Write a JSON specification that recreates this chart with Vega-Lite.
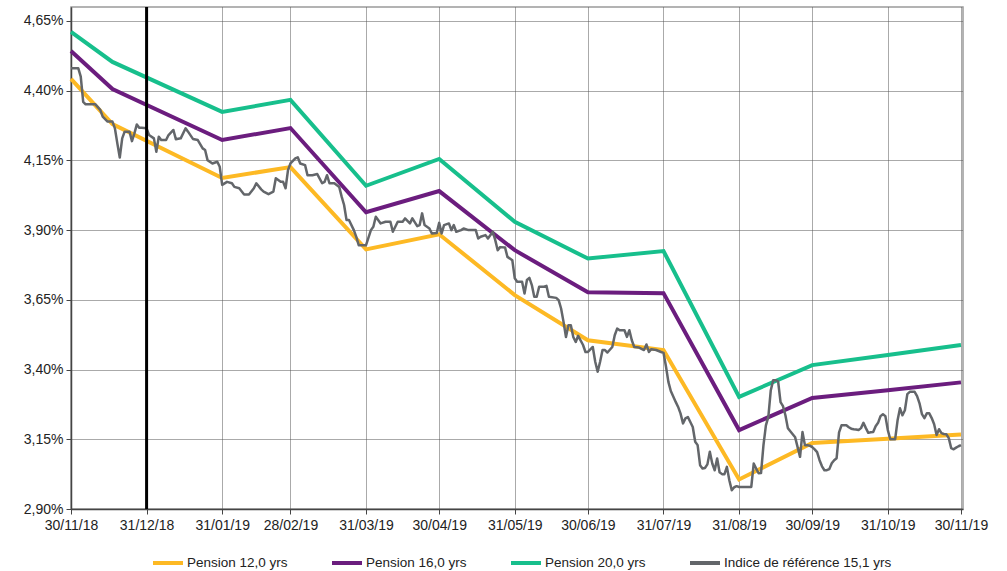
{
  "$schema": "https://vega.github.io/schema/vega-lite/v6.json",
  "width": 892,
  "height": 502,
  "autosize": {"type": "none"},
  "padding": {"left": 71, "top": 7, "right": 44, "bottom": 62},
  "background": "white",
  "config": {
    "view": {"stroke": "#9a9a9a", "strokeWidth": 1.5},
    "font": "Liberation Sans",
    "axis": {
      "labelFont": "Liberation Sans",
      "labelFontSize": 14,
      "labelColor": "#222222",
      "gridColor": "#555555",
      "gridDash": [1, 1],
      "gridWidth": 1,
      "gridOpacity": 1,
      "domainColor": "#444444",
      "domainWidth": 1.5,
      "tickColor": "#444444",
      "tickSize": 5,
      "title": null
    },
    "legend": {
      "labelFont": "Liberation Sans",
      "labelFontSize": 13.5,
      "labelColor": "#222222",
      "labelLimit": 400,
      "symbolType": "stroke",
      "symbolStrokeWidth": 4,
      "symbolSize": 900,
      "columnPadding": 36,
      "gridAlign": "none",
      "labelOffset": 2
    }
  },
  "datasets": {
    "pension": [
      {"date": "2018-11-30", "taux": 4.442, "serie": "Pension 12,0 yrs"},
      {"date": "2018-12-17", "taux": 4.280, "serie": "Pension 12,0 yrs"},
      {"date": "2019-01-31", "taux": 4.087, "serie": "Pension 12,0 yrs"},
      {"date": "2019-02-28", "taux": 4.126, "serie": "Pension 12,0 yrs"},
      {"date": "2019-03-31", "taux": 3.831, "serie": "Pension 12,0 yrs"},
      {"date": "2019-04-30", "taux": 3.885, "serie": "Pension 12,0 yrs"},
      {"date": "2019-05-31", "taux": 3.667, "serie": "Pension 12,0 yrs"},
      {"date": "2019-06-30", "taux": 3.505, "serie": "Pension 12,0 yrs"},
      {"date": "2019-07-31", "taux": 3.470, "serie": "Pension 12,0 yrs"},
      {"date": "2019-08-31", "taux": 3.006, "serie": "Pension 12,0 yrs"},
      {"date": "2019-09-30", "taux": 3.137, "serie": "Pension 12,0 yrs"},
      {"date": "2019-10-31", "taux": 3.152, "serie": "Pension 12,0 yrs"},
      {"date": "2019-11-30", "taux": 3.167, "serie": "Pension 12,0 yrs"},
      {"date": "2018-11-30", "taux": 4.542, "serie": "Pension 16,0 yrs"},
      {"date": "2018-12-17", "taux": 4.406, "serie": "Pension 16,0 yrs"},
      {"date": "2019-01-31", "taux": 4.223, "serie": "Pension 16,0 yrs"},
      {"date": "2019-02-28", "taux": 4.266, "serie": "Pension 16,0 yrs"},
      {"date": "2019-03-31", "taux": 3.964, "serie": "Pension 16,0 yrs"},
      {"date": "2019-04-30", "taux": 4.040, "serie": "Pension 16,0 yrs"},
      {"date": "2019-05-31", "taux": 3.828, "serie": "Pension 16,0 yrs"},
      {"date": "2019-06-30", "taux": 3.677, "serie": "Pension 16,0 yrs"},
      {"date": "2019-07-31", "taux": 3.674, "serie": "Pension 16,0 yrs"},
      {"date": "2019-08-31", "taux": 3.183, "serie": "Pension 16,0 yrs"},
      {"date": "2019-09-30", "taux": 3.298, "serie": "Pension 16,0 yrs"},
      {"date": "2019-10-31", "taux": 3.326, "serie": "Pension 16,0 yrs"},
      {"date": "2019-11-30", "taux": 3.354, "serie": "Pension 16,0 yrs"},
      {"date": "2018-11-30", "taux": 4.611, "serie": "Pension 20,0 yrs"},
      {"date": "2018-12-17", "taux": 4.503, "serie": "Pension 20,0 yrs"},
      {"date": "2019-01-31", "taux": 4.324, "serie": "Pension 20,0 yrs"},
      {"date": "2019-02-28", "taux": 4.367, "serie": "Pension 20,0 yrs"},
      {"date": "2019-03-31", "taux": 4.059, "serie": "Pension 20,0 yrs"},
      {"date": "2019-04-30", "taux": 4.155, "serie": "Pension 20,0 yrs"},
      {"date": "2019-05-31", "taux": 3.930, "serie": "Pension 20,0 yrs"},
      {"date": "2019-06-30", "taux": 3.798, "serie": "Pension 20,0 yrs"},
      {"date": "2019-07-31", "taux": 3.825, "serie": "Pension 20,0 yrs"},
      {"date": "2019-08-31", "taux": 3.302, "serie": "Pension 20,0 yrs"},
      {"date": "2019-09-30", "taux": 3.416, "serie": "Pension 20,0 yrs"},
      {"date": "2019-10-31", "taux": 3.452, "serie": "Pension 20,0 yrs"},
      {"date": "2019-11-30", "taux": 3.488, "serie": "Pension 20,0 yrs"}
    ],
    "indice": [
      {"date": "2018-11-30", "taux": 4.480, "serie": "Indice de référence 15,1 yrs"},
      {"date": "2018-12-03", "taux": 4.480, "serie": "Indice de référence 15,1 yrs"},
      {"date": "2018-12-04", "taux": 4.450, "serie": "Indice de référence 15,1 yrs"},
      {"date": "2018-12-05", "taux": 4.360, "serie": "Indice de référence 15,1 yrs"},
      {"date": "2018-12-06", "taux": 4.351, "serie": "Indice de référence 15,1 yrs"},
      {"date": "2018-12-10", "taux": 4.351, "serie": "Indice de référence 15,1 yrs"},
      {"date": "2018-12-12", "taux": 4.331, "serie": "Indice de référence 15,1 yrs"},
      {"date": "2018-12-13", "taux": 4.307, "serie": "Indice de référence 15,1 yrs"},
      {"date": "2018-12-15", "taux": 4.289, "serie": "Indice de référence 15,1 yrs"},
      {"date": "2018-12-17", "taux": 4.289, "serie": "Indice de référence 15,1 yrs"},
      {"date": "2018-12-18", "taux": 4.265, "serie": "Indice de référence 15,1 yrs"},
      {"date": "2018-12-19", "taux": 4.211, "serie": "Indice de référence 15,1 yrs"},
      {"date": "2018-12-20", "taux": 4.160, "serie": "Indice de référence 15,1 yrs"},
      {"date": "2018-12-21", "taux": 4.229, "serie": "Indice de référence 15,1 yrs"},
      {"date": "2018-12-22", "taux": 4.253, "serie": "Indice de référence 15,1 yrs"},
      {"date": "2018-12-24", "taux": 4.253, "serie": "Indice de référence 15,1 yrs"},
      {"date": "2018-12-25", "taux": 4.219, "serie": "Indice de référence 15,1 yrs"},
      {"date": "2018-12-26", "taux": 4.247, "serie": "Indice de référence 15,1 yrs"},
      {"date": "2018-12-27", "taux": 4.279, "serie": "Indice de référence 15,1 yrs"},
      {"date": "2018-12-28", "taux": 4.267, "serie": "Indice de référence 15,1 yrs"},
      {"date": "2018-12-29", "taux": 4.267, "serie": "Indice de référence 15,1 yrs"},
      {"date": "2018-12-31", "taux": 4.265, "serie": "Indice de référence 15,1 yrs"},
      {"date": "2019-01-01", "taux": 4.241, "serie": "Indice de référence 15,1 yrs"},
      {"date": "2019-01-03", "taux": 4.229, "serie": "Indice de référence 15,1 yrs"},
      {"date": "2019-01-04", "taux": 4.181, "serie": "Indice de référence 15,1 yrs"},
      {"date": "2019-01-05", "taux": 4.235, "serie": "Indice de référence 15,1 yrs"},
      {"date": "2019-01-06", "taux": 4.223, "serie": "Indice de référence 15,1 yrs"},
      {"date": "2019-01-08", "taux": 4.223, "serie": "Indice de référence 15,1 yrs"},
      {"date": "2019-01-09", "taux": 4.241, "serie": "Indice de référence 15,1 yrs"},
      {"date": "2019-01-11", "taux": 4.259, "serie": "Indice de référence 15,1 yrs"},
      {"date": "2019-01-12", "taux": 4.226, "serie": "Indice de référence 15,1 yrs"},
      {"date": "2019-01-14", "taux": 4.229, "serie": "Indice de référence 15,1 yrs"},
      {"date": "2019-01-16", "taux": 4.265, "serie": "Indice de référence 15,1 yrs"},
      {"date": "2019-01-17", "taux": 4.253, "serie": "Indice de référence 15,1 yrs"},
      {"date": "2019-01-19", "taux": 4.227, "serie": "Indice de référence 15,1 yrs"},
      {"date": "2019-01-21", "taux": 4.223, "serie": "Indice de référence 15,1 yrs"},
      {"date": "2019-01-23", "taux": 4.193, "serie": "Indice de référence 15,1 yrs"},
      {"date": "2019-01-24", "taux": 4.187, "serie": "Indice de référence 15,1 yrs"},
      {"date": "2019-01-25", "taux": 4.151, "serie": "Indice de référence 15,1 yrs"},
      {"date": "2019-01-27", "taux": 4.139, "serie": "Indice de référence 15,1 yrs"},
      {"date": "2019-01-29", "taux": 4.145, "serie": "Indice de référence 15,1 yrs"},
      {"date": "2019-01-30", "taux": 4.127, "serie": "Indice de référence 15,1 yrs"},
      {"date": "2019-01-31", "taux": 4.062, "serie": "Indice de référence 15,1 yrs"},
      {"date": "2019-02-02", "taux": 4.073, "serie": "Indice de référence 15,1 yrs"},
      {"date": "2019-02-04", "taux": 4.068, "serie": "Indice de référence 15,1 yrs"},
      {"date": "2019-02-05", "taux": 4.055, "serie": "Indice de référence 15,1 yrs"},
      {"date": "2019-02-07", "taux": 4.050, "serie": "Indice de référence 15,1 yrs"},
      {"date": "2019-02-09", "taux": 4.028, "serie": "Indice de référence 15,1 yrs"},
      {"date": "2019-02-11", "taux": 4.028, "serie": "Indice de référence 15,1 yrs"},
      {"date": "2019-02-13", "taux": 4.050, "serie": "Indice de référence 15,1 yrs"},
      {"date": "2019-02-14", "taux": 4.068, "serie": "Indice de référence 15,1 yrs"},
      {"date": "2019-02-16", "taux": 4.046, "serie": "Indice de référence 15,1 yrs"},
      {"date": "2019-02-17", "taux": 4.038, "serie": "Indice de référence 15,1 yrs"},
      {"date": "2019-02-19", "taux": 4.029, "serie": "Indice de référence 15,1 yrs"},
      {"date": "2019-02-21", "taux": 4.038, "serie": "Indice de référence 15,1 yrs"},
      {"date": "2019-02-22", "taux": 4.086, "serie": "Indice de référence 15,1 yrs"},
      {"date": "2019-02-24", "taux": 4.073, "serie": "Indice de référence 15,1 yrs"},
      {"date": "2019-02-25", "taux": 4.073, "serie": "Indice de référence 15,1 yrs"},
      {"date": "2019-02-26", "taux": 4.050, "serie": "Indice de référence 15,1 yrs"},
      {"date": "2019-02-27", "taux": 4.115, "serie": "Indice de référence 15,1 yrs"},
      {"date": "2019-02-28", "taux": 4.139, "serie": "Indice de référence 15,1 yrs"},
      {"date": "2019-03-02", "taux": 4.157, "serie": "Indice de référence 15,1 yrs"},
      {"date": "2019-03-03", "taux": 4.161, "serie": "Indice de référence 15,1 yrs"},
      {"date": "2019-03-04", "taux": 4.139, "serie": "Indice de référence 15,1 yrs"},
      {"date": "2019-03-06", "taux": 4.133, "serie": "Indice de référence 15,1 yrs"},
      {"date": "2019-03-07", "taux": 4.097, "serie": "Indice de référence 15,1 yrs"},
      {"date": "2019-03-09", "taux": 4.097, "serie": "Indice de référence 15,1 yrs"},
      {"date": "2019-03-11", "taux": 4.101, "serie": "Indice de référence 15,1 yrs"},
      {"date": "2019-03-13", "taux": 4.068, "serie": "Indice de référence 15,1 yrs"},
      {"date": "2019-03-14", "taux": 4.073, "serie": "Indice de référence 15,1 yrs"},
      {"date": "2019-03-15", "taux": 4.097, "serie": "Indice de référence 15,1 yrs"},
      {"date": "2019-03-16", "taux": 4.068, "serie": "Indice de référence 15,1 yrs"},
      {"date": "2019-03-18", "taux": 4.068, "serie": "Indice de référence 15,1 yrs"},
      {"date": "2019-03-20", "taux": 4.055, "serie": "Indice de référence 15,1 yrs"},
      {"date": "2019-03-21", "taux": 4.020, "serie": "Indice de référence 15,1 yrs"},
      {"date": "2019-03-22", "taux": 3.990, "serie": "Indice de référence 15,1 yrs"},
      {"date": "2019-03-23", "taux": 3.936, "serie": "Indice de référence 15,1 yrs"},
      {"date": "2019-03-24", "taux": 3.936, "serie": "Indice de référence 15,1 yrs"},
      {"date": "2019-03-26", "taux": 3.900, "serie": "Indice de référence 15,1 yrs"},
      {"date": "2019-03-27", "taux": 3.876, "serie": "Indice de référence 15,1 yrs"},
      {"date": "2019-03-28", "taux": 3.846, "serie": "Indice de référence 15,1 yrs"},
      {"date": "2019-03-30", "taux": 3.846, "serie": "Indice de référence 15,1 yrs"},
      {"date": "2019-03-31", "taux": 3.846, "serie": "Indice de référence 15,1 yrs"},
      {"date": "2019-04-02", "taux": 3.900, "serie": "Indice de référence 15,1 yrs"},
      {"date": "2019-04-03", "taux": 3.912, "serie": "Indice de référence 15,1 yrs"},
      {"date": "2019-04-04", "taux": 3.948, "serie": "Indice de référence 15,1 yrs"},
      {"date": "2019-04-06", "taux": 3.924, "serie": "Indice de référence 15,1 yrs"},
      {"date": "2019-04-08", "taux": 3.930, "serie": "Indice de référence 15,1 yrs"},
      {"date": "2019-04-10", "taux": 3.930, "serie": "Indice de référence 15,1 yrs"},
      {"date": "2019-04-11", "taux": 3.894, "serie": "Indice de référence 15,1 yrs"},
      {"date": "2019-04-13", "taux": 3.930, "serie": "Indice de référence 15,1 yrs"},
      {"date": "2019-04-15", "taux": 3.930, "serie": "Indice de référence 15,1 yrs"},
      {"date": "2019-04-16", "taux": 3.942, "serie": "Indice de référence 15,1 yrs"},
      {"date": "2019-04-18", "taux": 3.924, "serie": "Indice de référence 15,1 yrs"},
      {"date": "2019-04-19", "taux": 3.942, "serie": "Indice de référence 15,1 yrs"},
      {"date": "2019-04-21", "taux": 3.914, "serie": "Indice de référence 15,1 yrs"},
      {"date": "2019-04-22", "taux": 3.918, "serie": "Indice de référence 15,1 yrs"},
      {"date": "2019-04-23", "taux": 3.960, "serie": "Indice de référence 15,1 yrs"},
      {"date": "2019-04-24", "taux": 3.918, "serie": "Indice de référence 15,1 yrs"},
      {"date": "2019-04-26", "taux": 3.906, "serie": "Indice de référence 15,1 yrs"},
      {"date": "2019-04-27", "taux": 3.888, "serie": "Indice de référence 15,1 yrs"},
      {"date": "2019-04-29", "taux": 3.890, "serie": "Indice de référence 15,1 yrs"},
      {"date": "2019-04-30", "taux": 3.926, "serie": "Indice de référence 15,1 yrs"},
      {"date": "2019-05-01", "taux": 3.888, "serie": "Indice de référence 15,1 yrs"},
      {"date": "2019-05-02", "taux": 3.918, "serie": "Indice de référence 15,1 yrs"},
      {"date": "2019-05-04", "taux": 3.924, "serie": "Indice de référence 15,1 yrs"},
      {"date": "2019-05-05", "taux": 3.900, "serie": "Indice de référence 15,1 yrs"},
      {"date": "2019-05-06", "taux": 3.918, "serie": "Indice de référence 15,1 yrs"},
      {"date": "2019-05-07", "taux": 3.894, "serie": "Indice de référence 15,1 yrs"},
      {"date": "2019-05-09", "taux": 3.900, "serie": "Indice de référence 15,1 yrs"},
      {"date": "2019-05-10", "taux": 3.906, "serie": "Indice de référence 15,1 yrs"},
      {"date": "2019-05-12", "taux": 3.900, "serie": "Indice de référence 15,1 yrs"},
      {"date": "2019-05-15", "taux": 3.900, "serie": "Indice de référence 15,1 yrs"},
      {"date": "2019-05-16", "taux": 3.870, "serie": "Indice de référence 15,1 yrs"},
      {"date": "2019-05-17", "taux": 3.876, "serie": "Indice de référence 15,1 yrs"},
      {"date": "2019-05-19", "taux": 3.882, "serie": "Indice de référence 15,1 yrs"},
      {"date": "2019-05-20", "taux": 3.870, "serie": "Indice de référence 15,1 yrs"},
      {"date": "2019-05-22", "taux": 3.894, "serie": "Indice de référence 15,1 yrs"},
      {"date": "2019-05-23", "taux": 3.864, "serie": "Indice de référence 15,1 yrs"},
      {"date": "2019-05-24", "taux": 3.828, "serie": "Indice de référence 15,1 yrs"},
      {"date": "2019-05-25", "taux": 3.839, "serie": "Indice de référence 15,1 yrs"},
      {"date": "2019-05-27", "taux": 3.838, "serie": "Indice de référence 15,1 yrs"},
      {"date": "2019-05-28", "taux": 3.804, "serie": "Indice de référence 15,1 yrs"},
      {"date": "2019-05-30", "taux": 3.792, "serie": "Indice de référence 15,1 yrs"},
      {"date": "2019-05-31", "taux": 3.727, "serie": "Indice de référence 15,1 yrs"},
      {"date": "2019-06-01", "taux": 3.715, "serie": "Indice de référence 15,1 yrs"},
      {"date": "2019-06-03", "taux": 3.715, "serie": "Indice de référence 15,1 yrs"},
      {"date": "2019-06-04", "taux": 3.673, "serie": "Indice de référence 15,1 yrs"},
      {"date": "2019-06-05", "taux": 3.721, "serie": "Indice de référence 15,1 yrs"},
      {"date": "2019-06-06", "taux": 3.729, "serie": "Indice de référence 15,1 yrs"},
      {"date": "2019-06-07", "taux": 3.703, "serie": "Indice de référence 15,1 yrs"},
      {"date": "2019-06-08", "taux": 3.661, "serie": "Indice de référence 15,1 yrs"},
      {"date": "2019-06-09", "taux": 3.661, "serie": "Indice de référence 15,1 yrs"},
      {"date": "2019-06-10", "taux": 3.697, "serie": "Indice de référence 15,1 yrs"},
      {"date": "2019-06-12", "taux": 3.697, "serie": "Indice de référence 15,1 yrs"},
      {"date": "2019-06-13", "taux": 3.700, "serie": "Indice de référence 15,1 yrs"},
      {"date": "2019-06-14", "taux": 3.661, "serie": "Indice de référence 15,1 yrs"},
      {"date": "2019-06-17", "taux": 3.657, "serie": "Indice de référence 15,1 yrs"},
      {"date": "2019-06-18", "taux": 3.649, "serie": "Indice de référence 15,1 yrs"},
      {"date": "2019-06-19", "taux": 3.619, "serie": "Indice de référence 15,1 yrs"},
      {"date": "2019-06-20", "taux": 3.571, "serie": "Indice de référence 15,1 yrs"},
      {"date": "2019-06-21", "taux": 3.517, "serie": "Indice de référence 15,1 yrs"},
      {"date": "2019-06-22", "taux": 3.559, "serie": "Indice de référence 15,1 yrs"},
      {"date": "2019-06-23", "taux": 3.559, "serie": "Indice de référence 15,1 yrs"},
      {"date": "2019-06-24", "taux": 3.517, "serie": "Indice de référence 15,1 yrs"},
      {"date": "2019-06-25", "taux": 3.499, "serie": "Indice de référence 15,1 yrs"},
      {"date": "2019-06-26", "taux": 3.521, "serie": "Indice de référence 15,1 yrs"},
      {"date": "2019-06-28", "taux": 3.488, "serie": "Indice de référence 15,1 yrs"},
      {"date": "2019-06-29", "taux": 3.463, "serie": "Indice de référence 15,1 yrs"},
      {"date": "2019-06-30", "taux": 3.463, "serie": "Indice de référence 15,1 yrs"},
      {"date": "2019-07-02", "taux": 3.481, "serie": "Indice de référence 15,1 yrs"},
      {"date": "2019-07-03", "taux": 3.428, "serie": "Indice de référence 15,1 yrs"},
      {"date": "2019-07-04", "taux": 3.392, "serie": "Indice de référence 15,1 yrs"},
      {"date": "2019-07-05", "taux": 3.428, "serie": "Indice de référence 15,1 yrs"},
      {"date": "2019-07-06", "taux": 3.470, "serie": "Indice de référence 15,1 yrs"},
      {"date": "2019-07-07", "taux": 3.470, "serie": "Indice de référence 15,1 yrs"},
      {"date": "2019-07-08", "taux": 3.461, "serie": "Indice de référence 15,1 yrs"},
      {"date": "2019-07-10", "taux": 3.481, "serie": "Indice de référence 15,1 yrs"},
      {"date": "2019-07-11", "taux": 3.523, "serie": "Indice de référence 15,1 yrs"},
      {"date": "2019-07-12", "taux": 3.547, "serie": "Indice de référence 15,1 yrs"},
      {"date": "2019-07-13", "taux": 3.541, "serie": "Indice de référence 15,1 yrs"},
      {"date": "2019-07-15", "taux": 3.541, "serie": "Indice de référence 15,1 yrs"},
      {"date": "2019-07-16", "taux": 3.517, "serie": "Indice de référence 15,1 yrs"},
      {"date": "2019-07-17", "taux": 3.541, "serie": "Indice de référence 15,1 yrs"},
      {"date": "2019-07-18", "taux": 3.505, "serie": "Indice de référence 15,1 yrs"},
      {"date": "2019-07-19", "taux": 3.481, "serie": "Indice de référence 15,1 yrs"},
      {"date": "2019-07-21", "taux": 3.479, "serie": "Indice de référence 15,1 yrs"},
      {"date": "2019-07-23", "taux": 3.470, "serie": "Indice de référence 15,1 yrs"},
      {"date": "2019-07-24", "taux": 3.490, "serie": "Indice de référence 15,1 yrs"},
      {"date": "2019-07-25", "taux": 3.463, "serie": "Indice de référence 15,1 yrs"},
      {"date": "2019-07-26", "taux": 3.473, "serie": "Indice de référence 15,1 yrs"},
      {"date": "2019-07-28", "taux": 3.470, "serie": "Indice de référence 15,1 yrs"},
      {"date": "2019-07-30", "taux": 3.463, "serie": "Indice de référence 15,1 yrs"},
      {"date": "2019-07-31", "taux": 3.460, "serie": "Indice de référence 15,1 yrs"},
      {"date": "2019-08-01", "taux": 3.412, "serie": "Indice de référence 15,1 yrs"},
      {"date": "2019-08-02", "taux": 3.356, "serie": "Indice de référence 15,1 yrs"},
      {"date": "2019-08-03", "taux": 3.323, "serie": "Indice de référence 15,1 yrs"},
      {"date": "2019-08-05", "taux": 3.284, "serie": "Indice de référence 15,1 yrs"},
      {"date": "2019-08-06", "taux": 3.266, "serie": "Indice de référence 15,1 yrs"},
      {"date": "2019-08-07", "taux": 3.242, "serie": "Indice de référence 15,1 yrs"},
      {"date": "2019-08-08", "taux": 3.207, "serie": "Indice de référence 15,1 yrs"},
      {"date": "2019-08-09", "taux": 3.225, "serie": "Indice de référence 15,1 yrs"},
      {"date": "2019-08-10", "taux": 3.230, "serie": "Indice de référence 15,1 yrs"},
      {"date": "2019-08-12", "taux": 3.194, "serie": "Indice de référence 15,1 yrs"},
      {"date": "2019-08-13", "taux": 3.141, "serie": "Indice de référence 15,1 yrs"},
      {"date": "2019-08-14", "taux": 3.129, "serie": "Indice de référence 15,1 yrs"},
      {"date": "2019-08-15", "taux": 3.057, "serie": "Indice de référence 15,1 yrs"},
      {"date": "2019-08-16", "taux": 3.045, "serie": "Indice de référence 15,1 yrs"},
      {"date": "2019-08-17", "taux": 3.047, "serie": "Indice de référence 15,1 yrs"},
      {"date": "2019-08-18", "taux": 3.060, "serie": "Indice de référence 15,1 yrs"},
      {"date": "2019-08-19", "taux": 3.105, "serie": "Indice de référence 15,1 yrs"},
      {"date": "2019-08-20", "taux": 3.063, "serie": "Indice de référence 15,1 yrs"},
      {"date": "2019-08-21", "taux": 3.039, "serie": "Indice de référence 15,1 yrs"},
      {"date": "2019-08-22", "taux": 3.081, "serie": "Indice de référence 15,1 yrs"},
      {"date": "2019-08-23", "taux": 3.032, "serie": "Indice de référence 15,1 yrs"},
      {"date": "2019-08-24", "taux": 3.025, "serie": "Indice de référence 15,1 yrs"},
      {"date": "2019-08-25", "taux": 3.025, "serie": "Indice de référence 15,1 yrs"},
      {"date": "2019-08-26", "taux": 3.051, "serie": "Indice de référence 15,1 yrs"},
      {"date": "2019-08-27", "taux": 3.003, "serie": "Indice de référence 15,1 yrs"},
      {"date": "2019-08-28", "taux": 2.967, "serie": "Indice de référence 15,1 yrs"},
      {"date": "2019-08-29", "taux": 2.978, "serie": "Indice de référence 15,1 yrs"},
      {"date": "2019-08-30", "taux": 2.982, "serie": "Indice de référence 15,1 yrs"},
      {"date": "2019-08-31", "taux": 2.979, "serie": "Indice de référence 15,1 yrs"},
      {"date": "2019-09-01", "taux": 2.979, "serie": "Indice de référence 15,1 yrs"},
      {"date": "2019-09-03", "taux": 2.979, "serie": "Indice de référence 15,1 yrs"},
      {"date": "2019-09-05", "taux": 2.979, "serie": "Indice de référence 15,1 yrs"},
      {"date": "2019-09-06", "taux": 3.063, "serie": "Indice de référence 15,1 yrs"},
      {"date": "2019-09-07", "taux": 3.045, "serie": "Indice de référence 15,1 yrs"},
      {"date": "2019-09-08", "taux": 3.028, "serie": "Indice de référence 15,1 yrs"},
      {"date": "2019-09-09", "taux": 3.029, "serie": "Indice de référence 15,1 yrs"},
      {"date": "2019-09-10", "taux": 3.129, "serie": "Indice de référence 15,1 yrs"},
      {"date": "2019-09-11", "taux": 3.200, "serie": "Indice de référence 15,1 yrs"},
      {"date": "2019-09-12", "taux": 3.230, "serie": "Indice de référence 15,1 yrs"},
      {"date": "2019-09-13", "taux": 3.326, "serie": "Indice de référence 15,1 yrs"},
      {"date": "2019-09-14", "taux": 3.362, "serie": "Indice de référence 15,1 yrs"},
      {"date": "2019-09-15", "taux": 3.362, "serie": "Indice de référence 15,1 yrs"},
      {"date": "2019-09-16", "taux": 3.358, "serie": "Indice de référence 15,1 yrs"},
      {"date": "2019-09-17", "taux": 3.283, "serie": "Indice de référence 15,1 yrs"},
      {"date": "2019-09-18", "taux": 3.269, "serie": "Indice de référence 15,1 yrs"},
      {"date": "2019-09-19", "taux": 3.236, "serie": "Indice de référence 15,1 yrs"},
      {"date": "2019-09-20", "taux": 3.190, "serie": "Indice de référence 15,1 yrs"},
      {"date": "2019-09-21", "taux": 3.179, "serie": "Indice de référence 15,1 yrs"},
      {"date": "2019-09-22", "taux": 3.168, "serie": "Indice de référence 15,1 yrs"},
      {"date": "2019-09-23", "taux": 3.157, "serie": "Indice de référence 15,1 yrs"},
      {"date": "2019-09-24", "taux": 3.122, "serie": "Indice de référence 15,1 yrs"},
      {"date": "2019-09-25", "taux": 3.087, "serie": "Indice de référence 15,1 yrs"},
      {"date": "2019-09-26", "taux": 3.176, "serie": "Indice de référence 15,1 yrs"},
      {"date": "2019-09-27", "taux": 3.129, "serie": "Indice de référence 15,1 yrs"},
      {"date": "2019-09-28", "taux": 3.129, "serie": "Indice de référence 15,1 yrs"},
      {"date": "2019-09-29", "taux": 3.127, "serie": "Indice de référence 15,1 yrs"},
      {"date": "2019-09-30", "taux": 3.122, "serie": "Indice de référence 15,1 yrs"},
      {"date": "2019-10-01", "taux": 3.114, "serie": "Indice de référence 15,1 yrs"},
      {"date": "2019-10-02", "taux": 3.104, "serie": "Indice de référence 15,1 yrs"},
      {"date": "2019-10-03", "taux": 3.075, "serie": "Indice de référence 15,1 yrs"},
      {"date": "2019-10-04", "taux": 3.053, "serie": "Indice de référence 15,1 yrs"},
      {"date": "2019-10-05", "taux": 3.039, "serie": "Indice de référence 15,1 yrs"},
      {"date": "2019-10-06", "taux": 3.039, "serie": "Indice de référence 15,1 yrs"},
      {"date": "2019-10-07", "taux": 3.043, "serie": "Indice de référence 15,1 yrs"},
      {"date": "2019-10-08", "taux": 3.064, "serie": "Indice de référence 15,1 yrs"},
      {"date": "2019-10-09", "taux": 3.075, "serie": "Indice de référence 15,1 yrs"},
      {"date": "2019-10-10", "taux": 3.082, "serie": "Indice de référence 15,1 yrs"},
      {"date": "2019-10-11", "taux": 3.175, "serie": "Indice de référence 15,1 yrs"},
      {"date": "2019-10-12", "taux": 3.200, "serie": "Indice de référence 15,1 yrs"},
      {"date": "2019-10-13", "taux": 3.200, "serie": "Indice de référence 15,1 yrs"},
      {"date": "2019-10-14", "taux": 3.200, "serie": "Indice de référence 15,1 yrs"},
      {"date": "2019-10-15", "taux": 3.193, "serie": "Indice de référence 15,1 yrs"},
      {"date": "2019-10-16", "taux": 3.188, "serie": "Indice de référence 15,1 yrs"},
      {"date": "2019-10-17", "taux": 3.186, "serie": "Indice de référence 15,1 yrs"},
      {"date": "2019-10-18", "taux": 3.185, "serie": "Indice de référence 15,1 yrs"},
      {"date": "2019-10-19", "taux": 3.183, "serie": "Indice de référence 15,1 yrs"},
      {"date": "2019-10-20", "taux": 3.190, "serie": "Indice de référence 15,1 yrs"},
      {"date": "2019-10-21", "taux": 3.209, "serie": "Indice de référence 15,1 yrs"},
      {"date": "2019-10-22", "taux": 3.190, "serie": "Indice de référence 15,1 yrs"},
      {"date": "2019-10-23", "taux": 3.173, "serie": "Indice de référence 15,1 yrs"},
      {"date": "2019-10-24", "taux": 3.175, "serie": "Indice de référence 15,1 yrs"},
      {"date": "2019-10-25", "taux": 3.176, "serie": "Indice de référence 15,1 yrs"},
      {"date": "2019-10-26", "taux": 3.197, "serie": "Indice de référence 15,1 yrs"},
      {"date": "2019-10-27", "taux": 3.209, "serie": "Indice de référence 15,1 yrs"},
      {"date": "2019-10-28", "taux": 3.233, "serie": "Indice de référence 15,1 yrs"},
      {"date": "2019-10-29", "taux": 3.240, "serie": "Indice de référence 15,1 yrs"},
      {"date": "2019-10-30", "taux": 3.233, "serie": "Indice de référence 15,1 yrs"},
      {"date": "2019-10-31", "taux": 3.183, "serie": "Indice de référence 15,1 yrs"},
      {"date": "2019-11-01", "taux": 3.150, "serie": "Indice de référence 15,1 yrs"},
      {"date": "2019-11-02", "taux": 3.150, "serie": "Indice de référence 15,1 yrs"},
      {"date": "2019-11-03", "taux": 3.150, "serie": "Indice de référence 15,1 yrs"},
      {"date": "2019-11-04", "taux": 3.218, "serie": "Indice de référence 15,1 yrs"},
      {"date": "2019-11-05", "taux": 3.261, "serie": "Indice de référence 15,1 yrs"},
      {"date": "2019-11-06", "taux": 3.236, "serie": "Indice de référence 15,1 yrs"},
      {"date": "2019-11-07", "taux": 3.254, "serie": "Indice de référence 15,1 yrs"},
      {"date": "2019-11-08", "taux": 3.312, "serie": "Indice de référence 15,1 yrs"},
      {"date": "2019-11-09", "taux": 3.320, "serie": "Indice de référence 15,1 yrs"},
      {"date": "2019-11-10", "taux": 3.320, "serie": "Indice de référence 15,1 yrs"},
      {"date": "2019-11-11", "taux": 3.320, "serie": "Indice de référence 15,1 yrs"},
      {"date": "2019-11-12", "taux": 3.305, "serie": "Indice de référence 15,1 yrs"},
      {"date": "2019-11-13", "taux": 3.279, "serie": "Indice de référence 15,1 yrs"},
      {"date": "2019-11-14", "taux": 3.240, "serie": "Indice de référence 15,1 yrs"},
      {"date": "2019-11-15", "taux": 3.226, "serie": "Indice de référence 15,1 yrs"},
      {"date": "2019-11-16", "taux": 3.243, "serie": "Indice de référence 15,1 yrs"},
      {"date": "2019-11-17", "taux": 3.243, "serie": "Indice de référence 15,1 yrs"},
      {"date": "2019-11-18", "taux": 3.226, "serie": "Indice de référence 15,1 yrs"},
      {"date": "2019-11-19", "taux": 3.204, "serie": "Indice de référence 15,1 yrs"},
      {"date": "2019-11-20", "taux": 3.165, "serie": "Indice de référence 15,1 yrs"},
      {"date": "2019-11-21", "taux": 3.186, "serie": "Indice de référence 15,1 yrs"},
      {"date": "2019-11-22", "taux": 3.172, "serie": "Indice de référence 15,1 yrs"},
      {"date": "2019-11-23", "taux": 3.169, "serie": "Indice de référence 15,1 yrs"},
      {"date": "2019-11-24", "taux": 3.168, "serie": "Indice de référence 15,1 yrs"},
      {"date": "2019-11-25", "taux": 3.154, "serie": "Indice de référence 15,1 yrs"},
      {"date": "2019-11-26", "taux": 3.118, "serie": "Indice de référence 15,1 yrs"},
      {"date": "2019-11-27", "taux": 3.114, "serie": "Indice de référence 15,1 yrs"},
      {"date": "2019-11-28", "taux": 3.120, "serie": "Indice de référence 15,1 yrs"},
      {"date": "2019-11-29", "taux": 3.125, "serie": "Indice de référence 15,1 yrs"},
      {"date": "2019-11-30", "taux": 3.129, "serie": "Indice de référence 15,1 yrs"}
    ],
    "marker": [{"date": "2018-12-31"}]
  },
  "encoding": {
    "x": {
      "field": "date",
      "type": "temporal",
      "scale": {
        "type": "utc",
        "domain": [
          {"year": 2018, "month": 11, "date": 30, "utc": true},
          {"year": 2019, "month": 11, "date": 30, "hours": 20, "utc": true}
        ]
      },
      "axis": {
        "values": [
          {"year": 2018, "month": 11, "date": 30, "utc": true},
          {"year": 2018, "month": 12, "date": 31, "utc": true},
          {"year": 2019, "month": 1, "date": 31, "utc": true},
          {"year": 2019, "month": 2, "date": 28, "utc": true},
          {"year": 2019, "month": 3, "date": 31, "utc": true},
          {"year": 2019, "month": 4, "date": 30, "utc": true},
          {"year": 2019, "month": 5, "date": 31, "utc": true},
          {"year": 2019, "month": 6, "date": 30, "utc": true},
          {"year": 2019, "month": 7, "date": 31, "utc": true},
          {"year": 2019, "month": 8, "date": 31, "utc": true},
          {"year": 2019, "month": 9, "date": 30, "utc": true},
          {"year": 2019, "month": 10, "date": 31, "utc": true},
          {"year": 2019, "month": 11, "date": 30, "utc": true}
        ],
        "labelExpr": "utcFormat(datum.value, '%d/%m/%y')",
        "labelPadding": 4,
        "labelOverlap": false,
        "labelFlush": false,
        "grid": true
      }
    }
  },
  "layer": [
    {
      "data": {"name": "pension"},
      "mark": {"type": "line", "strokeWidth": 4, "strokeJoin": "miter", "strokeCap": "butt"},
      "encoding": {
        "y": {
          "field": "taux",
          "type": "quantitative",
          "scale": {"domain": [2.9, 4.7], "nice": false, "zero": false},
          "axis": {
            "values": [2.9, 3.15, 3.4, 3.65, 3.9, 4.15, 4.4, 4.65],
            "labelExpr": "replace(format(datum.value, '.2f'), '.', ',') + '%'",
            "labelPadding": 3,
            "grid": true
          }
        },
        "color": {
          "field": "serie",
          "type": "nominal",
          "scale": {
            "domain": ["Pension 12,0 yrs", "Pension 16,0 yrs", "Pension 20,0 yrs", "Indice de référence 15,1 yrs"],
            "range": ["#FDB924", "#6B1D7E", "#17BF8C", "#63666A"]
          },
          "legend": {
            "title": null,
            "orient": "none",
            "direction": "horizontal",
            "legendX": 80,
            "legendY": 539
          }
        },
        "detail": {"field": "serie"}
      }
    },
    {
      "data": {"name": "indice"},
      "mark": {"type": "line", "strokeWidth": 2.5, "strokeJoin": "round"},
      "encoding": {
        "y": {"field": "taux", "type": "quantitative"},
        "color": {"field": "serie", "type": "nominal"}
      }
    },
    {
      "data": {"name": "marker"},
      "mark": {"type": "rule", "color": "#000000", "strokeWidth": 3},
      "encoding": {}
    }
  ]
}
